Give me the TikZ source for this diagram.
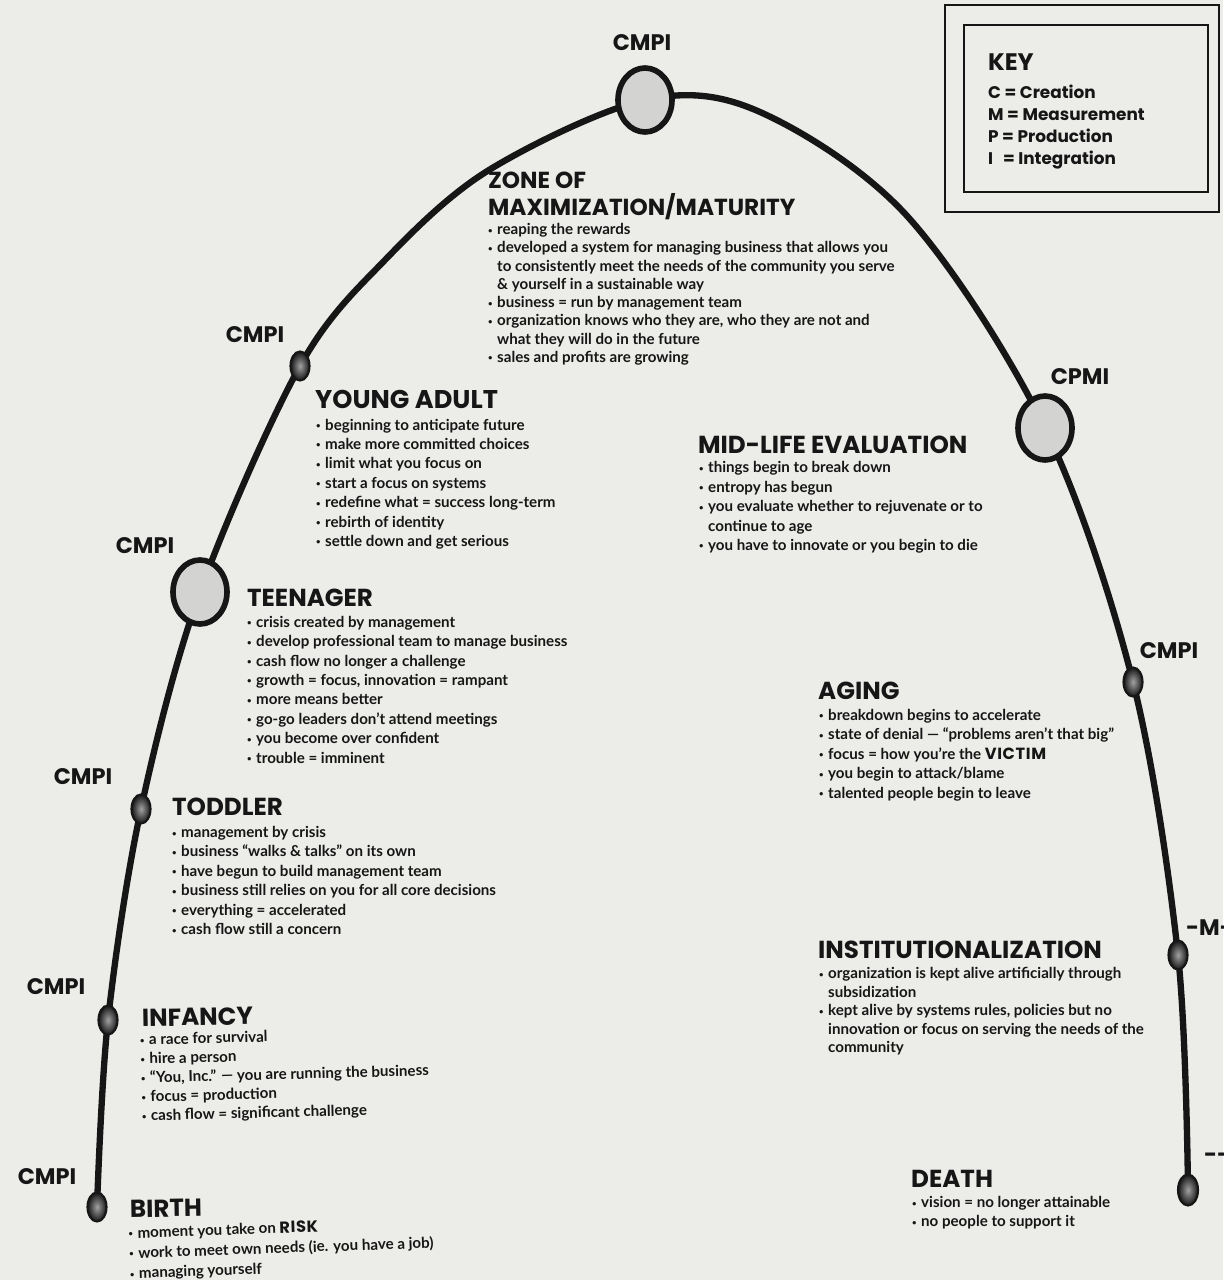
\documentclass[tikz,border=0pt]{standalone}
\usepackage{fontspec}
\setmainfont{Lato}
\newfontfamily\headfont{Poppins}
\usetikzlibrary{positioning,shapes.geometric,backgrounds}
\definecolor{Paper}{HTML}{ECECE9}
\definecolor{Ink}{HTML}{161616}
\definecolor{BigFill}{HTML}{D3D3D1}
\definecolor{DotCore}{HTML}{A2A2A2}
\newcommand{\bl}{\makebox[0.6em][l]{\raisebox{0.1em}{\fontsize{11}{11}\selectfont•}}}
\newcommand{\ind}{\hspace*{0.6em}}
\newcommand{\loud}[1]{{\headfont\bfseries\fontsize{23}{27}\selectfont\addfontfeature{LetterSpace=4}#1}}

\begin{document}
\begin{tikzpicture}[x=0.05cm,y=-0.05cm,every node/.style={text=Ink},
  tag/.style={font=\headfont\bfseries\fontsize{32}{34}\selectfont,inner sep=0pt},
  head/.style={font=\headfont\bfseries\fontsize{35}{38.3}\selectfont,anchor=base west,inner sep=0pt,align=left},
  body/.style={font=\bfseries\fontsize{21.5}{27.6}\selectfont,anchor=base west,inner sep=0pt,align=left},
  dotsmall/.style={ellipse,draw=Ink,line width=3pt,minimum width=0.95cm,minimum height=1.45cm,inner sep=0pt,inner color=DotCore,outer color=Ink},
  dotbig/.style={ellipse,draw=Ink,line width=8pt,minimum width=2.7cm,minimum height=3.2cm,fill=BigFill,inner sep=0pt},
  arc/.style={draw=Ink,line width=9pt,line cap=round},
  keyline/.style={font=\headfont\bfseries\fontsize{24}{31.2}\selectfont,anchor=base west,inner sep=0pt,align=left}]
\useasboundingbox (0,0) rectangle (1223,1280);
% stages along the arc
\node[dotsmall] (birth) at (97,1207) {};
\node[dotsmall] (infancy) at (108,1020) {};
\node[dotsmall] (toddler) at (141,809) {};
\node[dotbig] (teen) at (200,592) {};
\node[dotsmall] (young) at (300,366) {};
\node[dotbig] (prime) at (645,100) {};
\node[dotbig] (midlife) at (1045,428) {};
\node[dotsmall] (aging) at (1133,682) {};
\node[dotsmall] (institution) at (1178,955) {};
\node[dotsmall,minimum width=1cm,minimum height=1.55cm] (death) at (1188,1190) {};
\coordinate (arcA) at (385,260);\coordinate (arcB) at (489,170);\coordinate (arcC) at (760,112);\coordinate (arcD) at (908,217);
% code letters
\node[tag] (tagBirth) at (47,1177) {CMPI};
\node[tag] (tagInfancy) at (56,987) {CMPI};
\node[tag] (tagToddler) at (83,777) {CMPI};
\node[tag] (tagTeen) at (145,546) {CMPI};
\node[tag] (tagYoung) at (255,335) {CMPI};
\node[tag] (tagPrime) at (642,43) {CMPI};
\node[tag] (tagMidlife) at (1080,377) {CPMI};
\node[tag] (tagAging) at (1169,651) {CMPI};
\node[tag,anchor=west] (tagInstitution) at (1186,928) {-M-{}-};
\node[tag,anchor=west] (tagDeath) at (1204,1158) {-{}-{}-};
% stage texts
\node[head,font=\headfont\bfseries\fontsize{33}{38.3}\selectfont] (hPrime) at (488,215.5) {ZONE OF\\MAXIMIZATION/MATURITY};
\node[body,font=\bfseries\fontsize{21.5}{26}\selectfont] (bPrime) at (488,362.5) {\bl reaping the rewards\\\bl developed a system for managing business that allows you\\\ind to consistently meet the needs of the community you serve\\\ind \& yourself in a sustainable way\\\bl business = run by management team\\\bl organization knows who they are, who they are not and\\\ind what they will do in the future\\\bl sales and profits are growing};
\node[head,font=\headfont\bfseries\fontsize{36.5}{38.3}\selectfont] (hYoung) at (315,408.5) {YOUNG ADULT};
\node[body] (bYoung) at (316,546.5) {\bl beginning to anticipate future\\\bl make more committed choices\\\bl limit what you focus on\\\bl start a focus on systems\\\bl redefine what = success long-term\\\bl rebirth of identity\\\bl settle down and get serious};
\node[head] (hMidlife) at (698,453.5) {MID-LIFE EVALUATION};
\node[body] (bMidlife) at (699,550.5) {\bl things begin to break down\\\bl entropy has begun\\\bl you evaluate whether to rejuvenate or to\\\ind continue to age\\\bl you have to innovate or you begin to die};
\node[head] (hTeen) at (247,606.5) {TEENAGER};
\node[body] (bTeen) at (247,763) {\bl crisis created by management\\\bl develop professional team to manage business\\\bl cash flow no longer a challenge\\\bl growth = focus, innovation = rampant\\\bl more means better\\\bl go-go leaders don’t attend meetings\\\bl you become over confident\\\bl trouble = imminent};
\node[head] (hAging) at (818,699.5) {AGING};
\node[body] (bAging) at (819,798) {\bl breakdown begins to accelerate\\\bl state of denial — “problems aren’t that big”\\\bl focus = how you’re the \loud{VICTIM}\\\bl you begin to attack/blame\\\bl talented people begin to leave};
\node[head] (hToddler) at (172,815.5) {TODDLER};
\node[body] (bToddler) at (172,934.5) {\bl management by crisis\\\bl business “walks \& talks” on its own\\\bl have begun to build management team\\\bl business still relies on you for all core decisions\\\bl everything = accelerated\\\bl cash flow still a concern};
\node[head] (hInstitution) at (818,958.5) {INSTITUTIONALIZATION};
\node[body,font=\bfseries\fontsize{21.5}{26.2}\selectfont] (bInstitution) at (819,1052.5) {\bl organization is kept alive artificially through\\\ind subsidization\\\bl kept alive by systems rules, policies but no\\\ind innovation or focus on serving the needs of the\\\ind community};
\node[head,rotate=1] (hInfancy) at (142,1026.5) {INFANCY};
\node[body,rotate=1.5,font=\bfseries\fontsize{21.5}{27}\selectfont] (bInfancy) at (142,1121) {\bl a race for survival\\\bl hire a person\\\bl “You, Inc.” — you are running the business\\\bl focus = production\\\bl cash flow = significant challenge};
\node[head,rotate=1] (hBirth) at (130,1217.5) {BIRTH};
\node[body,rotate=2,font=\bfseries\fontsize{21.5}{28.5}\selectfont] (bBirth) at (130,1278.5) {\bl moment you take on \loud{RISK}\\\bl work to meet own needs (ie. you have a job)\\\bl managing yourself};
\node[head] (hDeath) at (911,1187.5) {DEATH};
\node[body,font=\bfseries\fontsize{21.5}{26.8}\selectfont] (bDeath) at (912,1226.5) {\bl vision = no longer attainable\\\bl no people to support it};
% key box
\draw[Ink,line width=2.5pt] (945,5) rectangle (1219,212);
\draw[Ink,line width=3.5pt] (964,25) rectangle (1208,192);
\node[keyline,font=\headfont\bfseries\fontsize{34}{36}\selectfont] (keyTitle) at (988,70) {KEY};
\node[keyline] (keyList) at (988,164.5) {C = Creation\\M = Measurement\\P = Production\\I\ \ \,= Integration};
\begin{scope}[on background layer]
\fill[Paper] (0,0) rectangle (1223,1280);
\draw[arc] plot[smooth,tension=0.55] coordinates {(birth.center) (infancy.center) (toddler.center) (teen.center) (young.center) (arcA) (arcB) (prime.center) (arcC) (arcD) (midlife.center) (aging.center) (institution.center) (death.center)};
\end{scope}
\end{tikzpicture}
\end{document}
